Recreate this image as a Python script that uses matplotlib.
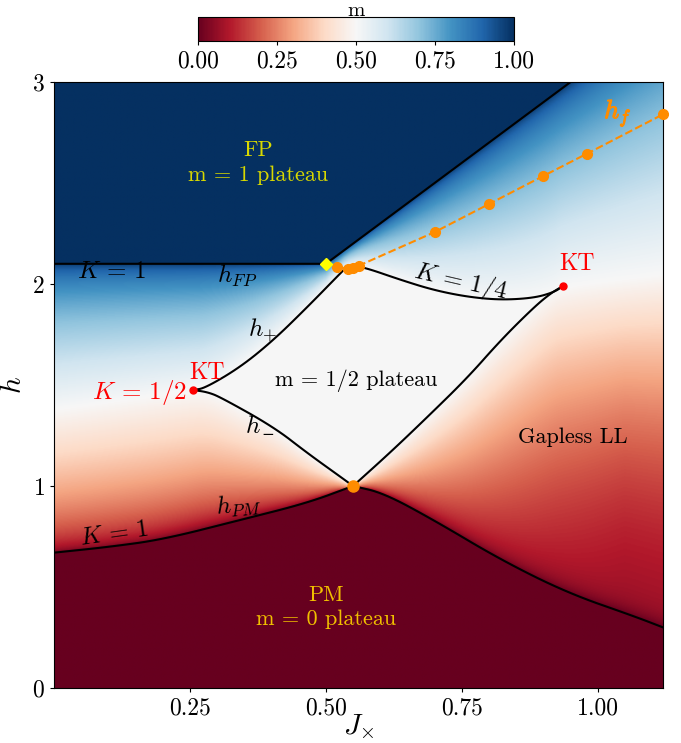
import numpy as np
import matplotlib
matplotlib.use("Agg")
import matplotlib.pyplot as plt
import matplotlib.patheffects as pe

plt.rcParams['font.family'] = 'serif'
plt.rcParams['font.serif'] = ['cmr10', 'DejaVu Serif']
plt.rcParams['mathtext.fontset'] = 'cm'
plt.rcParams['axes.formatter.use_mathtext'] = True

# boundary curves (J_x, h)
pm_left_j = [0.0, 0.1, 0.2, 0.343, 0.466, 0.55]
pm_left_h = [0.67, 0.698, 0.735, 0.832, 0.916, 1.0]
pm_right_j = [0.55, 0.606, 0.698, 0.822, 0.945, 1.067, 1.12]
pm_right_h = [1.0, 0.965, 0.832, 0.634, 0.47, 0.355, 0.30]

hminus_j = [0.256, 0.282, 0.306, 0.404, 0.466, 0.527, 0.55]
hminus_h = [1.475, 1.465, 1.44, 1.292, 1.163, 1.045, 1.0]
hplus_j = [0.256, 0.278, 0.343, 0.404, 0.466, 0.527, 0.536]
hplus_h = [1.475, 1.485, 1.589, 1.723, 1.886, 2.054, 2.078]
kquarter_j = [0.55, 0.569, 0.638, 0.698, 0.761, 0.822, 0.883, 0.92, 0.936]
kquarter_h = [2.085, 2.084, 2.02, 1.97, 1.936, 1.921, 1.931, 1.96, 1.99]
right_low_j = [0.55, 0.62, 0.69, 0.76, 0.822, 0.883, 0.914, 0.936]
right_low_h = [1.0, 1.17, 1.35, 1.535, 1.723, 1.886, 1.955, 1.99]

fp_j = [0.0, 0.5, 1.12]
fp_h = [2.1, 2.1, 3.34]

# m = 1/2 crossover outside the plateau
mid_left_j = [0.0, 0.256]
mid_left_h = [1.38, 1.475]
mid_right_j = [0.936, 1.12]
mid_right_h = [1.99, 2.05]

hf_j = [0.52, 0.54, 0.55, 0.56, 0.70, 0.80, 0.90, 0.98, 1.12]
hf_h = [2.085, 2.075, 2.08, 2.09, 2.257, 2.396, 2.535, 2.645, 2.84]

kt_j = [0.256, 0.936]
kt_h = [1.475, 1.99]
tip_j, tip_h = 0.55, 1.0
fpcorner_j, fpcorner_h = 0.5, 2.1


def smooth(x, y, n=3):
    p = np.column_stack([x, y]).astype(float)
    for _ in range(n):
        q = 0.75 * p[:-1] + 0.25 * p[1:]
        r = 0.25 * p[:-1] + 0.75 * p[1:]
        mid = np.empty((2 * len(q), 2))
        mid[0::2] = q
        mid[1::2] = r
        p = np.vstack([p[:1], mid, p[-1:]])
    return p[:, 0], p[:, 1]


def F(s):
    s = np.clip(s, 0, 1)
    return np.arccos(1 - 2 * s) / np.pi


# build the magnetisation field from the boundaries
J = np.linspace(0, 1.12, 700)
H = np.linspace(0, 3, 700)
JJ, HH = np.meshgrid(J, H)

pm_x, pm_y = smooth(pm_left_j + pm_right_j[1:], pm_left_h + pm_right_h[1:])
lo_x, lo_y = smooth(mid_left_j + hminus_j[1:] + right_low_j[1:] + mid_right_j[1:],
                    mid_left_h + hminus_h[1:] + right_low_h[1:] + mid_right_h[1:])
hi_x, hi_y = smooth(mid_left_j + hplus_j[1:] + kquarter_j + mid_right_j[1:],
                    mid_left_h + hplus_h[1:] + kquarter_h + mid_right_h[1:])

h_pm = np.interp(JJ, pm_x, pm_y)
h_lo = np.interp(JJ, lo_x, lo_y)
h_hi = np.interp(JJ, hi_x, hi_y)
h_fp = np.interp(JJ, fp_j, fp_h)

m = np.full(JJ.shape, 0.5)
low = (HH >= h_pm) & (HH < h_lo)
t = (HH[low] - h_pm[low]) / (h_lo[low] - h_pm[low])
w = np.clip((JJ[low] - 0.6) / 0.45, 0, 1)
m_sym = F(0.5 * t)
m_skew = 0.5 * (0.16 * (1 - np.exp(-t / 0.03)) + 0.84 * t ** 1.8)
m[low] = (1 - w) * m_sym + w * m_skew
up = (HH > h_hi) & (HH <= h_fp)
m[up] = F(0.5 + 0.5 * (HH[up] - h_hi[up]) / (h_fp[up] - h_hi[up]))
m[HH < h_pm] = 0.0
m[HH > h_fp] = 1.0

fig = plt.figure(figsize=(6.81, 7.43), dpi=100)
ax = fig.add_axes([54 / 681, 1 - 688 / 743, 609 / 681, 606 / 743])
cax = fig.add_axes([198 / 681, 1 - 41 / 743, 316 / 681, 24 / 743])

im = ax.imshow(m, extent=[0, 1.12, 0, 3], origin='lower', aspect='auto',
               cmap='RdBu', vmin=0, vmax=1, interpolation='bilinear')

lw = 1.5
for xs, ys in [(pm_left_j, pm_left_h), (pm_right_j, pm_right_h),
               (hminus_j, hminus_h), (hplus_j, hplus_h),
               (kquarter_j, kquarter_h), (right_low_j, right_low_h)]:
    sx, sy = smooth(xs, ys)
    ax.plot(sx, sy, color='black', lw=lw)
ax.plot(fp_j, fp_h, color='black', lw=lw)

ax.plot(hf_j, hf_h, '--', color='darkorange', lw=1.5)
ax.plot(hf_j, hf_h, 'o', color='darkorange', ms=7, clip_on=False, zorder=5)
ax.plot(tip_j, tip_h, 'o', color='darkorange', ms=8, zorder=5)
ax.plot(kt_j, kt_h, 'o', color='red', ms=5, zorder=5)
ax.plot(fpcorner_j, fpcorner_h, 'D', color='yellow', ms=6, zorder=6)

ax.set_xlim(0, 1.12)
ax.set_ylim(0, 3)
ax.set_xticks([0.25, 0.5, 0.75, 1.0])
ax.set_xticklabels(['0.25', '0.50', '0.75', '1.00'])
ax.set_yticks([0, 1, 2, 3])
ax.tick_params(labelsize=17, length=3)
ax.set_xlabel(r'$J_{\times}$', fontsize=21, labelpad=-5)
ax.set_ylabel(r'$h$', fontsize=21, labelpad=4)

fs = 16
fm = 18
ax.text(0.376, 2.60, 'FP\nm = 1 plateau', color='#d8d800', fontsize=fs,
        ha='center', va='center', linespacing=1.3)
ax.text(0.50, 0.40, 'PM\nm = 0 plateau', color='#f0c000', fontsize=fs,
        ha='center', va='center', linespacing=1.3)
ax.text(0.107, 2.06, r'$K\,=\,1$', fontsize=fm, ha='center', va='center')
ax.text(0.110, 0.76, r'$K\,=\,1$', fontsize=fm, ha='center', va='center', rotation=8)
ax.text(0.337, 2.04, r'$h_{FP}$', fontsize=fm, ha='center', va='center')
ax.text(0.339, 0.90, r'$h_{PM}$', fontsize=fm, ha='center', va='center', rotation=5)
ax.text(0.383, 1.77, r'$h_{+}$', fontsize=fm, ha='center', va='center')
# the cm minus glyph does not render here, so the subscript is set apart
ax.text(0.366, 1.29, r'$h$', fontsize=fm, ha='center', va='center')
ax.annotate('\u2212', xy=(0.366, 1.29), xytext=(6, -5), textcoords='offset points',
            family='DejaVu Sans', fontsize=11, ha='left', va='center')
ax.text(0.158, 1.465, r'$K\,=\,1/2$', color='red', fontsize=fm, ha='center', va='center')
ax.text(0.282, 1.56, 'KT', color='red', fontsize=fs + 1, ha='center', va='center')
ax.text(0.962, 2.10, 'KT', color='red', fontsize=fs + 1, ha='center', va='center')
ax.text(0.555, 1.52, 'm = 1/2 plateau', fontsize=fs, ha='center', va='center')
ax.text(0.748, 2.01, r'$K\,=\,1/4$', fontsize=fm, ha='center', va='center', rotation=-13)
ax.text(0.954, 1.243, 'Gapless LL', fontsize=fs, ha='center', va='center')
ax.text(1.037, 2.85, r'$h_f$', color='darkorange', fontsize=19, ha='center', va='center',
        path_effects=[pe.withStroke(linewidth=0.8, foreground='darkorange')])

cb = fig.colorbar(im, cax=cax, orientation='horizontal')
cb.set_ticks([0, 0.25, 0.5, 0.75, 1.0])
cb.set_ticklabels(['0.00', '0.25', '0.50', '0.75', '1.00'])
cb.ax.tick_params(labelsize=17, length=3)
cax.text(0.5, 1.04, 'm', transform=cax.transAxes, fontsize=15,
         ha='center', va='baseline')

fig.savefig('out.png', dpi=100)
